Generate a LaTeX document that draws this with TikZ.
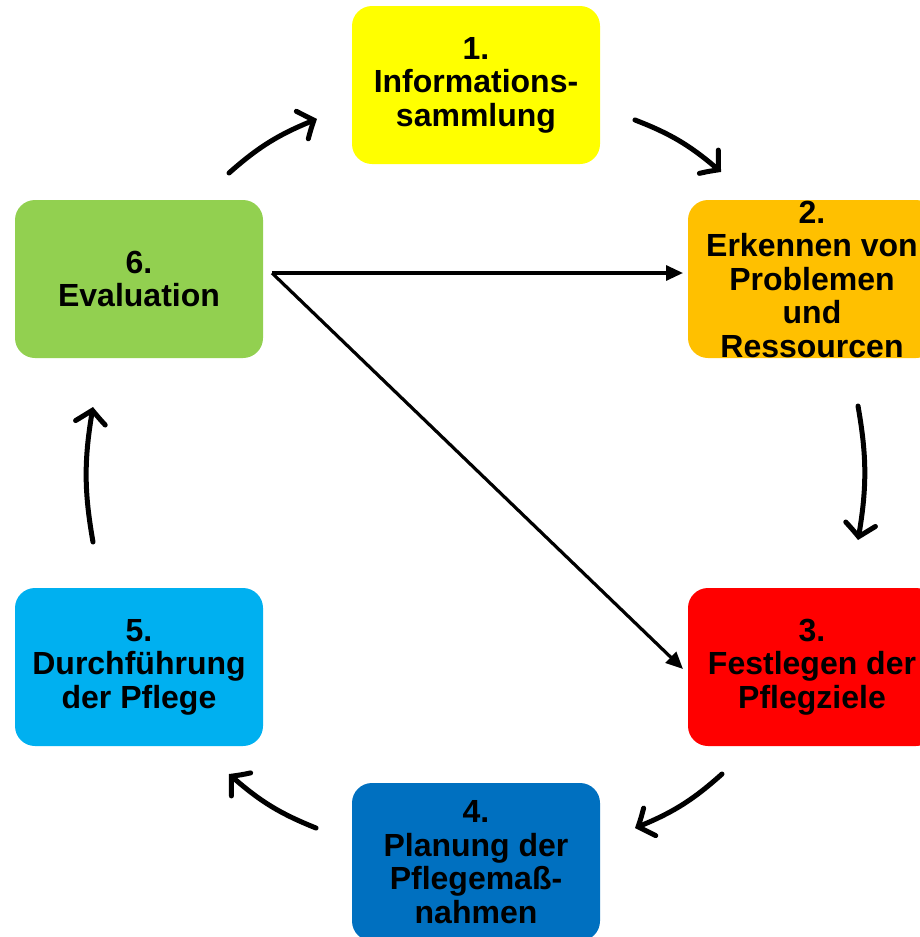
\documentclass[tikz,border=0pt]{standalone}
\usepackage{fontspec}
\setmainfont{Liberation Sans}
\usetikzlibrary{arrows.meta,bending}
\definecolor{cyel}{HTML}{FFFF00}
\definecolor{corg}{HTML}{FFC000}
\definecolor{cred}{HTML}{FF0000}
\definecolor{cblu}{HTML}{0070C0}
\definecolor{clbl}{HTML}{00B0F0}
\definecolor{cgrn}{HTML}{92D050}
\tikzset{
  stepbox/.style={rectangle, rounded corners=20pt, minimum width=248pt, minimum height=158pt,
    inner sep=0pt, align=center, font=\fontsize{32}{33.5}\selectfont\bfseries, text=black},
  cyc/.style={line width=5pt, line cap=round, -{Straight Barb[length=13pt,width=30pt,line cap=round,bend]}},
  direct/.style={line width=3.2pt, -{Triangle[length=17pt,width=15pt]}}
}
\begin{document}
\begin{tikzpicture}[x=1pt,y=-1pt]
\useasboundingbox (0,0) rectangle (920,937);
\node[stepbox, fill=cyel] (n1) at (476,85) {1.\\Informations-\\sammlung};
\node[stepbox, fill=corg] (n2) at (812,279) {2.\\Erkennen von\\Problemen\\und\\Ressourcen};
\node[stepbox, fill=cred] (n3) at (812,667) {3.\\Festlegen der\\Pflegziele};
\node[stepbox, fill=cblu] (n4) at (476,862) {4.\\Planung der\\Pflegemaß-\\nahmen};
\node[stepbox, fill=clbl] (n5) at (139,667) {5.\\Durchführung\\der Pflege};
\node[stepbox, fill=cgrn] (n6) at (139,279) {6.\\Evaluation};
% cycle arrows
\coordinate (a1s) at (229,173); \coordinate (a1e) at (317,119);
\coordinate (a2s) at (635,120); \coordinate (a2e) at (721,172);
\coordinate (a3s) at (858,406); \coordinate (a3e) at (858,540);
\coordinate (a4s) at (722,774); \coordinate (a4e) at (635,828);
\coordinate (a5s) at (316,828); \coordinate (a5e) at (229,774);
\coordinate (a6s) at (93,542);  \coordinate (a6e) at (93,407);
\draw[cyc] (a1s) to[bend left=10] (a1e);
\draw[cyc] (a2s) to[bend left=10] (a2e);
\draw[cyc] (a3s) to[bend left=10] (a3e);
\draw[cyc] (a4s) to[bend left=10] (a4e);
\draw[cyc] (a5s) to[bend left=10] (a5e);
\draw[cyc] (a6s) to[bend left=10] (a6e);
% direct arrows from evaluation
\coordinate (ds) at (272,273);
\coordinate (d2) at (683,273);
\coordinate (d3) at (683,669);
\draw[direct] (ds) -- (d2);
\draw[direct] (ds) -- (d3);
\end{tikzpicture}
\end{document}
